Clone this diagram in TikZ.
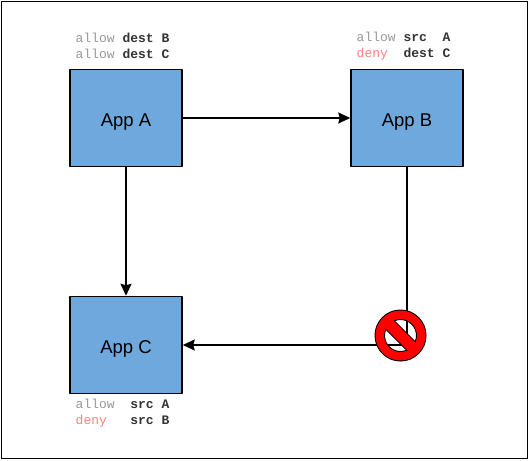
\documentclass[tikz,border=0pt]{standalone}
\usepackage{fontspec}
\setmainfont{Liberation Sans}
\setmonofont{Liberation Mono}
\usetikzlibrary{arrows.meta}
\definecolor{appblue}{HTML}{6FA8DC}
\definecolor{allowgray}{HTML}{999999}
\definecolor{denypink}{HTML}{FF8080}
\definecolor{ruledark}{HTML}{333333}
\newcommand{\allowtxt}{\textcolor{allowgray}{allow}}
\newcommand{\denytxt}{\textcolor{denypink}{deny}}
\newcommand{\rl}[1]{\textcolor{ruledark}{\textbf{#1}}}
\tikzset{
  appbox/.style={draw=black,line width=1.5pt,line join=round,fill=appblue,minimum width=112pt,minimum height=97pt,inner sep=0pt,text height=17pt,text depth=0pt,font=\fontsize{18.5}{21}\selectfont},
  rulelist/.style={inner sep=0pt,align=left,anchor=west,font=\ttfamily\fontsize{13}{16}\selectfont},
  link/.style={draw=black,line width=1.5pt,-{Stealth[length=12pt,width=11pt,inset=1.5pt]}}
}
\begin{document}
\begin{tikzpicture}[x=1pt,y=-1pt]
\useasboundingbox (0,0) rectangle (529,460);
\draw[black,line width=1pt] (1.6,1.6) rectangle (527.4,458.4);
\node[appbox] (a) at (126,118) {App A};
\node[appbox] (b) at (407,118) {App B};
\node[appbox] (c) at (126,345) {App C};
\draw[link] (a) -- (b);
\draw[link] (a) -- (c);
\draw[link] (b.south) |- (c.east);
\node[rulelist] (ra) at (75.5,46) {\allowtxt{} \rl{dest B}\\\allowtxt{} \rl{dest C}};
\node[rulelist] (rb) at (356.5,46) {\allowtxt{} \rl{src~~A}\\\denytxt{}~~\rl{dest C}};
\node[rulelist] (rc) at (75.5,413) {\allowtxt{}~~\rl{src A}\\\denytxt{}~~~\rl{src B}};
\begin{scope}[shift={(400.5,335.5)}]
  \fill[red,draw=black,line width=1pt,even odd rule] (0,0) circle (25.5) (0,0) circle (16);
  \draw[black,line width=1pt,fill=red,rotate=-45] (-18,-6) rectangle (18,6);
  \draw[red,line width=8pt] (0,0) circle (20.7);
\end{scope}
\end{tikzpicture}
\end{document}
